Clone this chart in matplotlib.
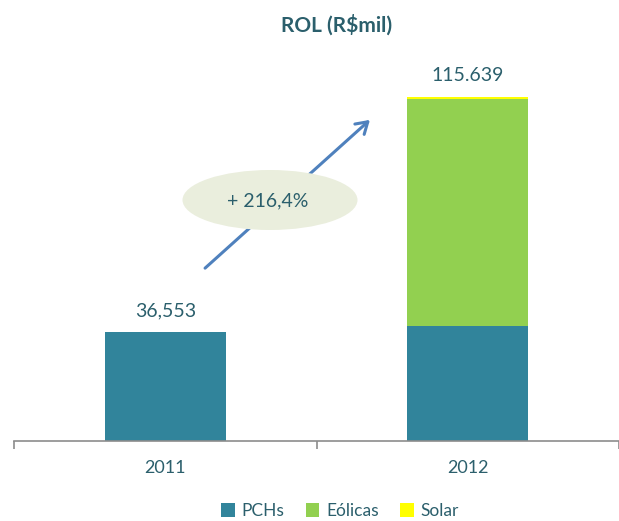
import matplotlib.pyplot as plt
from matplotlib.patches import Ellipse, FancyArrowPatch

plt.rcParams['font.family'] = ['Lato', 'DejaVu Sans']

anos = ["2011", "2012"]
pchs = [36.553, 38.5]
eolicas = [0.0, 76.54]
solar = [0.0, 0.6]
rotulos = ["36,553", "115.639"]
crescimento = "+ 216,4%"

cor_txt = "#2B5F6C"

W, H = 619, 521
fig = plt.figure(figsize=(W / 100, H / 100), dpi=100)
ax = fig.add_axes([14 / W, (H - 441) / H, (W - 14) / W, 401 / H])

x = range(len(anos))
ax.bar(x, pchs, 0.4, color="#31849B", label="PCHs")
ax.bar(x, eolicas, 0.4, bottom=pchs, color="#92D050", label="Eólicas")
base = [a + b for a, b in zip(pchs, eolicas)]
ax.bar(x, solar, 0.4, bottom=base, color="#FFFF00", label="Solar")

totais = [a + b for a, b in zip(base, solar)]
for i, t in enumerate(totais):
    ax.text(i, t + 4.5, rotulos[i], ha="center", va="bottom", fontsize=14, color=cor_txt)

ax.set_xlim(-0.5, 1.458)
ax.set_ylim(0, 134.8)
ax.set_xticks(list(x))
ax.set_xticklabels(anos, fontsize=13, color=cor_txt)
ax.tick_params(axis="x", which="major", length=0, pad=14)
ax.set_xticks([-0.5, 0.5, 1.5], minor=True)
ax.tick_params(axis="x", which="minor", length=6, color="#8C8C8C", width=1.2)
ax.set_yticks([])
for s in ["top", "right", "left"]:
    ax.spines[s].set_visible(False)
ax.spines["bottom"].set_color("#8C8C8C")
ax.spines["bottom"].set_linewidth(1.2)

fig.text(337 / W, 1 - 25 / H, "ROL (R$mil)", ha="center", va="center",
         fontsize=15, fontweight="bold", color=cor_txt)

# seta e elipse de crescimento (coordenadas em pixels da figura)
def px(xp, yp):
    return (xp / W, 1 - yp / H)

seta = FancyArrowPatch(px(203, 270), px(372, 118), transform=fig.transFigure,
                       arrowstyle="->,head_length=8,head_width=5", color="#4F81BD",
                       lw=2.2, mutation_scale=1)
fig.patches.append(seta)
elipse = Ellipse(px(270, 200), 175 / W, 60 / H, transform=fig.transFigure,
                 facecolor="#EAEEDD", edgecolor="none")
fig.patches.append(elipse)
fig.text(268 / W, 1 - 201 / H, crescimento, ha="center", va="center",
         fontsize=14, color=cor_txt)

fig.legend(loc="center", bbox_to_anchor=(340 / W, 1 - 511 / H), ncol=3, frameon=False,
           fontsize=12.5, handlelength=0.8, handleheight=0.8, handletextpad=0.4,
           columnspacing=1.2, labelcolor=cor_txt)

fig.savefig("out.png", dpi=100)
